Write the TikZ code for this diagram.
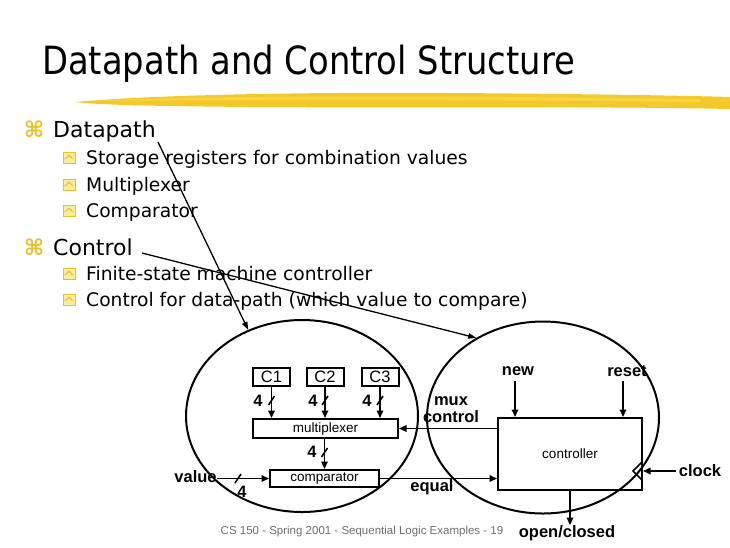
\documentclass[tikz,border=0pt]{standalone}
\usepackage{fontspec}
\setmainfont{DejaVu Sans}
\newfontfamily\arialf{Liberation Sans}
\usetikzlibrary{arrows.meta,shapes.geometric}
\definecolor{brushc}{RGB}{244,200,40}
\definecolor{brushl}{RGB}{250,220,90}
\definecolor{bulc}{RGB}{232,192,40}
\definecolor{boxfill}{RGB}{252,236,160}
\definecolor{footc}{RGB}{110,110,110}
\begin{document}
\begin{tikzpicture}[x=1pt,y=-1pt,
  titlet/.style={font=\fontsize{33.8}{38}\selectfont, anchor=base west, inner sep=0},
  head/.style={font=\fontsize{22}{25}\selectfont, anchor=base west, inner sep=0},
  item/.style={font=\fontsize{18.7}{20}\selectfont, anchor=base west, inner sep=0},
  bigbul/.style={text=bulc, font=\bfseries\fontsize{22}{22}\selectfont, inner sep=0},
  subbox/.style={draw=bulc, fill=boxfill, line width=1pt, minimum width=12pt, minimum height=10.5pt, inner sep=0,
    path picture={\draw[bulc, line width=1pt]
      ([shift={(1.8pt,-1.2pt)}]path picture bounding box.west) --
      ([shift={(0pt,2.8pt)}]path picture bounding box.center) --
      ([shift={(-1.8pt,-1.2pt)}]path picture bounding box.east);}},
  lbl/.style={font=\arialf\bfseries\fontsize{16.5}{17}\selectfont, inner sep=0},
  reg/.style={draw, line width=2pt, font=\arialf\fontsize{16.5}{18}\selectfont, inner sep=0, minimum width=37pt, minimum height=18pt},
  blk/.style={draw, line width=2pt, font=\arialf\fontsize{13.5}{15}\selectfont, inner sep=0},
  ell/.style={ellipse, draw, line width=2pt, inner sep=0, minimum width=232pt, minimum height=192pt},
  arr/.style={-{Triangle[length=7.5pt,width=6.5pt]}, line width=1.6pt},
  thinarr/.style={-{Triangle[length=8pt,width=5.5pt]}, line width=1.3pt},
  busmark/.style={line width=1.6pt}
]
\useasboundingbox (0,0) rectangle (730,547);
% title and brush stroke
\node[titlet] (title) at (42,74) {\scalebox{1}[1.15]{Datapath and Control Structure}};
\fill[brushc] (75,102) .. controls (150,95) and (300,92) .. (450,93) .. controls (600,94) and (700,96) .. (730,97)
  -- (730,109) .. controls (600,106) and (400,108) .. (250,107) .. controls (150,106) and (100,105) .. (75,102) -- cycle;
\fill[brushl, opacity=0.6] (90,101) .. controls (200,96) and (400,95) .. (700,99) -- (700,102) .. controls (400,99) and (200,100) .. (90,101) -- cycle;
% bullets
\node[bigbul] (b1) at (34,129) {⌘};
\node[head] (h1) at (53,137) {Datapath};
\node[subbox] (s1) at (69,158) {};
\node[item] (i1) at (86,164) {Storage registers for combination values};
\node[subbox] (s2) at (69,185) {};
\node[item] (i2) at (86,191) {Multiplexer};
\node[subbox] (s3) at (69,211) {};
\node[item] (i3) at (86,217) {Comparator};
\node[bigbul] (b2) at (34,247) {⌘};
\node[head] (h2) at (53,255) {Control};
\node[subbox] (s4) at (69,274) {};
\node[item] (i4) at (86,280) {Finite-state machine controller};
\node[subbox] (s5) at (69,300) {};
\node[item] (i5) at (86,306) {Control for data-path (which value to compare)};
% ellipses
\node[ell] (elL) at (302,416) {};
\node[ell] (elR) at (543,417.5) {};
\coordinate (a1) at (158,142);
\coordinate (a2) at (142,253);
\draw[thinarr] (a1) -- (elL.122.6);
\draw[thinarr] (a2) -- (elR.130.5);
% datapath
\node[reg] (c1) at (271.5,376.5) {C1};
\node[reg] (c2) at (325,376.5) {C2};
\node[reg] (c3) at (380,376.5) {C3};
\node[blk, minimum width=145pt, minimum height=19pt] (mux) at (325.5,428.5) {multiplexer};
\node[blk, minimum width=109pt, minimum height=17pt] (comp) at (324.5,478.5) {comparator};
\node[blk, minimum width=144pt, minimum height=72pt] (ctrl) at (570,454) {controller};
\draw[arr] (c1.south) -- (c1.south |- mux.north);
\draw[arr] (c2.south) -- (c2.south |- mux.north);
\draw[arr] (c3.south) -- (c3.south |- mux.north);
\draw[arr] (mux.south -| comp.north) -- (comp.north);
\draw[busmark] (268.5,405) -- (274.5,396);
\draw[busmark] (322,405) -- (328,396);
\draw[busmark] (377,405) -- (383,396);
\draw[busmark] (321.5,457) -- (327.5,448);
\draw[busmark] (235,483) -- (241,474);
\node[lbl] (n1) at (258,401) {4};
\node[lbl] (n2) at (313,401) {4};
\node[lbl] (n3) at (367,401) {4};
\node[lbl] (n4) at (312,452) {4};
\node[lbl] (n5) at (242,492) {4};
\node[lbl] (val) at (195.5,477) {value};
\draw[arr] (val.east |- comp.west) -- (comp.west);
\draw[arr] (comp.east) -- (comp.east -| ctrl.west);
\node[lbl] (eq) at (432,487) {equal};
\node[lbl, align=center] (muxc) at (451,409.5) {mux\\control};
\draw[arr] (ctrl.west |- mux.east) -- (mux.east);
\node[lbl] (new) at (518,371) {new};
\node[lbl] (reset) at (627,371) {reset};
\coordinate (newa) at (515,381);
\coordinate (reseta) at (623,381);
\draw[arr] (newa) -- (newa |- ctrl.north);
\draw[arr] (reseta) -- (reseta |- ctrl.north);
\node[lbl] (clk) at (700,471) {clock};
\draw[arr, shorten <=3pt] (clk.west) -- (clk.west -| ctrl.east);
\draw[line width=1.6pt] (642,462) -- (633,471) -- (642,480);
\node[lbl] (oc) at (567,533) {open/closed};
\draw[arr] (ctrl.south) -- (ctrl.south |- oc.north);
\node[font=\arialf\fontsize{11.5}{13}\selectfont, text=footc, inner sep=0] (foot) at (362,532) {CS 150 - Spring 2001 - Sequential Logic Examples - 19};
\end{tikzpicture}
\end{document}
